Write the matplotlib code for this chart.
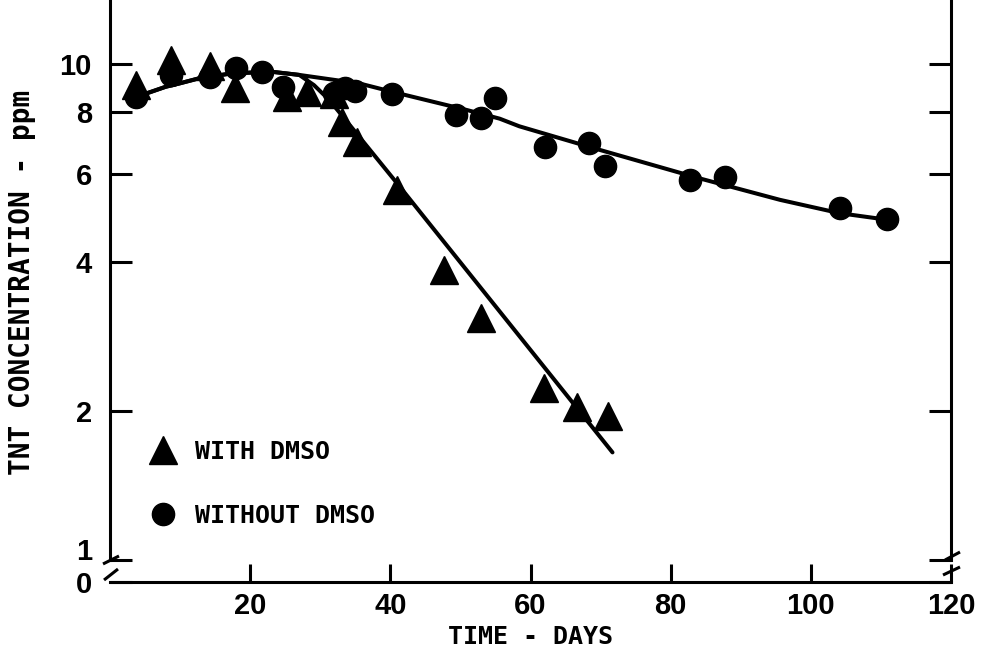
import matplotlib
matplotlib.use("Agg")
import matplotlib.pyplot as plt

# ---------------- data ----------------
with_dmso_days = [3.7, 8.7, 14.3, 17.9, 25.3, 28.1, 32.0, 33.1, 35.3, 40.9, 47.7, 53.0, 61.9, 66.7, 71.1]
with_dmso_ppm = [9.1, 10.2, 9.9, 8.96, 8.59, 8.79, 8.7, 7.65, 6.97, 5.58, 3.85, 3.08, 2.23, 2.04, 1.95]

without_dmso_days = [3.7, 8.7, 14.3, 18.0, 21.7, 24.7, 32.0, 33.5, 35.0, 40.3, 49.4, 53.0, 54.9,
                     62.0, 68.4, 70.7, 82.7, 87.7, 104.1, 110.9]
without_dmso_ppm = [8.6, 9.5, 9.45, 9.83, 9.65, 9.0, 8.75, 8.95, 8.85, 8.7, 7.9, 7.8, 8.55,
                    6.82, 6.94, 6.24, 5.85, 5.93, 5.13, 4.87]

fit_without_days = [3.7, 7.95, 9.9, 12.7, 17.4, 23.1, 27.0, 35.6, 40.3, 50.9, 55.6, 58.4, 69.9, 84.1, 95.6, 104.1, 110.9]
fit_without_ppm = [8.59, 9.01, 9.15, 9.37, 9.59, 9.66, 9.52, 9.15, 8.8, 8.09, 7.77, 7.5, 6.72, 5.89, 5.33, 5.01, 4.86]

fit_with_days = [3.7, 7.95, 9.9, 12.7, 17.4, 23.1, 27.0, 29.1, 31.3, 33.4, 40.9, 71.7]
fit_with_ppm = [8.59, 9.01, 9.15, 9.37, 9.59, 9.66, 9.52, 9.08, 8.47, 7.79, 5.77, 1.65]

x_ticks = [20, 40, 60, 80, 100, 120]
y_ticks = [1, 2, 4, 6, 8, 10]
y_tick_labels = ["1", "2", "4", "6", "8", "10"]

legend_labels = ["WITH DMSO", "WITHOUT DMSO"]
x_label = "TIME - DAYS"
y_label = "TNT CONCENTRATION - ppm"

# ---------------- figure ----------------
Y_BOTTOM = 0.904
Y_TOP = 13.48

fig = plt.figure(figsize=(9.83, 6.55), dpi=100)
ax = fig.add_axes([110 / 983, 73 / 655, 841 / 983, 582 / 655])

ax.set_yscale("log")
ax.set_xlim(0, 120)
ax.set_ylim(Y_BOTTOM, Y_TOP)

lw_line = 2.9
ax.plot(fit_without_days, fit_without_ppm, color="black", lw=lw_line, solid_capstyle="round", zorder=2)
ax.plot(fit_with_days, fit_with_ppm, color="black", lw=lw_line, solid_capstyle="round", zorder=2)

tri, = ax.plot(with_dmso_days, with_dmso_ppm, linestyle="none", marker="^", ms=19.5,
               color="black", zorder=3, label=legend_labels[0])
circ, = ax.plot(without_dmso_days, without_dmso_ppm, linestyle="none", marker="o", ms=16,
                color="black", zorder=3, label=legend_labels[1])

# spines
for s in ["left", "right", "bottom"]:
    ax.spines[s].set_linewidth(2.2)
ax.spines["top"].set_visible(False)
ax.spines["left"].set_bounds(1, Y_TOP)
ax.spines["right"].set_bounds(1, Y_TOP)

# ticks
tick_font = ["Liberation Sans", "DejaVu Sans"]
ax.set_xticks(x_ticks)
ax.set_xticklabels([str(v) for v in x_ticks])
ax.set_yticks([Y_BOTTOM] + y_ticks)
ax.set_yticklabels(["0"] + y_tick_labels)
ax.yaxis.set_minor_locator(matplotlib.ticker.NullLocator())
ax.tick_params(axis="x", direction="in", length=13, width=2.2, pad=7, labelsize=21)
ax.tick_params(axis="y", direction="in", length=16, width=2.2, pad=13, labelsize=21,
               left=True, right=True, labelright=False)
for lab in ax.get_xticklabels() + ax.get_yticklabels():
    lab.set_family(tick_font)
    lab.set_fontweight("bold")
# the "1" label sits just above its tick so it clears the "0" below the break
ylabs = ax.get_yticklabels()
ylabs[1].set_verticalalignment("baseline")

# axis break marks
brk = dict(color="black", lw=2.2, transform=ax.transAxes, clip_on=False, solid_capstyle="butt")
ax.plot([-0.0083, 0.0107], [0.031, 0.0447], **brk)
ax.plot([-0.0071, 0.0095], [0.0034, 0.0223], **brk)
ax.plot([0.9929, 1.0107], [0.0378, 0.0515], **brk)
ax.plot([0.9905, 1.0107], [0.012, 0.0258], **brk)

# labels
label_font = ["DejaVu Sans Mono", "DejaVu Sans"]
ax.set_xlabel(x_label, family=label_font, fontsize=18, fontweight="bold", labelpad=4)
ax.set_ylabel(y_label, family=label_font, fontsize=20, fontweight="bold")
ax.yaxis.set_label_coords(-0.088, 0.515)

# legend
leg = ax.legend(handles=[tri, circ], loc="center left", bbox_to_anchor=(0.033, 0.169),
                frameon=False, borderaxespad=0, handlelength=1.2, handletextpad=0.7,
                labelspacing=1.6, prop=dict(family=label_font, size=18, weight="bold"))

fig.savefig("out.png", dpi=100)
